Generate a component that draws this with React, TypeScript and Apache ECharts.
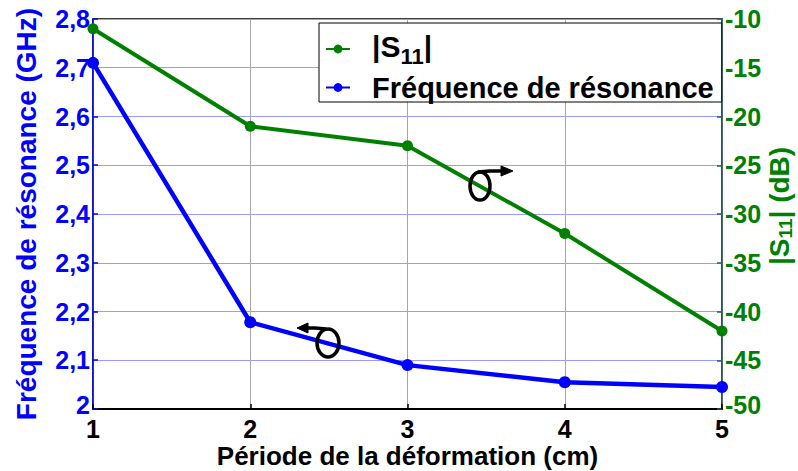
import React, { useEffect, useRef } from 'react';
import * as echarts from 'echarts';

// ---- data ----
const periods = [1, 2, 3, 4, 5];
const freqGHz = [2.71, 2.178, 2.09, 2.055, 2.045];
const s11dB = [-11, -21, -23, -32, -42];

const xTicks = { min: 1, max: 5, step: 1 };
const freqTicks = { min: 2, max: 2.8, step: 0.1 };
const s11Ticks = { min: -50, max: -10, step: 5 };

const seriesNames = ['S11', 'Fréquence de résonance'];
const xTitle = 'Période de la déformation (cm)';
const leftTitle = 'Fréquence de résonance (GHz)';

const FONT = '"Liberation Sans", Arial, Helvetica, sans-serif';
const BLUE = '#0000ff';
const GREEN = '#008000';
const RIGHT_AXIS = '#245a66';

export default function App() {
  const ref = useRef<HTMLDivElement>(null);

  useEffect(() => {
    if (!ref.current) return;
    const chart = echarts.init(ref.current, null, { renderer: 'svg' });

    const tickFont = { fontFamily: FONT, fontWeight: 'bold' as const, fontSize: 25 };
    const lowRich = (color: string) => ({
      lo: { fontFamily: FONT, fontWeight: 'bold', fontSize: 25, color, padding: [0, 0, 8, 0] },
    });

    const option: any = {
      animation: false,
      backgroundColor: '#fff',
      grid: {
        left: 93,
        right: 76,
        top: 19,
        bottom: 62,
        show: true,
        borderColor: '#000',
        borderWidth: 1.5,
        containLabel: false,
        outerBoundsMode: 'none',
      },
      legend: {
        data: seriesNames,
        orient: 'vertical',
        left: 319,
        top: 23,
        padding: [8, 8, 0, 6],
        itemGap: 6,
        backgroundColor: '#fff',
        borderColor: '#000',
        borderWidth: 1,
        borderRadius: 0,
        itemWidth: 24,
        itemHeight: 11,
        formatter: (name: string) =>
          name === 'S11' ? '{sp|}{t||S}{sub|11}{t||}' : '{sp|}{m|' + name + '}',
        textStyle: {
          fontFamily: FONT,
          fontWeight: 'bold',
          fontSize: 29,
          color: '#000',
          rich: {
            sp: { width: 17 },
            t: { fontFamily: FONT, fontWeight: 'bold', fontSize: 30, color: '#000', lineHeight: 36, verticalAlign: 'top' },
            sub: { fontFamily: FONT, fontWeight: 'bold', fontSize: 22, color: '#000', lineHeight: 22, verticalAlign: 'bottom' },
            m: { fontFamily: FONT, fontWeight: 'bold', fontSize: 29, color: '#000', lineHeight: 36 },
          },
        },
      },
      xAxis: {
        type: 'value',
        min: xTicks.min,
        max: xTicks.max,
        interval: xTicks.step,
        name: xTitle,
        nameLocation: 'middle',
        nameGap: 34,
        nameMoveOverlap: false,
        nameTextStyle: { fontFamily: FONT, fontWeight: 'bold', fontSize: 26, lineHeight: 26, color: '#000' },
        axisLine: { show: true, lineStyle: { color: '#000', width: 2 } },
        axisTick: { show: true, inside: true, length: 5, lineStyle: { color: '#000', width: 1.5 } },
        axisLabel: { ...tickFont, lineHeight: 24, color: '#000', margin: 8 },
        splitLine: { show: true, lineStyle: { color: '#a6a6a6', width: 1 } },
      },
      yAxis: [
        {
          type: 'value',
          position: 'left',
          min: freqTicks.min,
          max: freqTicks.max,
          interval: freqTicks.step,
          name: leftTitle,
          nameLocation: 'middle',
          nameRotate: 90,
          nameGap: 53,
          nameMoveOverlap: false,
          nameTextStyle: { fontFamily: FONT, fontWeight: 'bold', fontSize: 28, color: BLUE },
          axisLine: { show: true, lineStyle: { color: BLUE, width: 1.5 } },
          axisTick: { show: true, inside: true, length: 5, lineStyle: { color: BLUE, width: 1.5 } },
          axisLabel: {
            ...tickFont,
            color: BLUE,
            margin: 3,
            rich: lowRich(BLUE),
            formatter: (v: number) =>
              Math.abs(v - freqTicks.min) < 1e-9
                ? '{lo|' + String(Math.round(v)) + '}'
                : v.toFixed(1).replace('.', ','),
          },
          splitLine: { show: true, lineStyle: { color: '#9a9aff', width: 1 } },
        },
        {
          type: 'value',
          position: 'right',
          min: s11Ticks.min,
          max: s11Ticks.max,
          interval: s11Ticks.step,
          name: '{a||S}{b|11}{a|| (dB)}',
          nameLocation: 'middle',
          nameRotate: 90,
          nameGap: 43,
          nameMoveOverlap: false,
          nameTextStyle: {
            fontFamily: FONT,
            fontWeight: 'bold',
            fontSize: 28,
            color: GREEN,
            padding: [0, 0, 0, 16],
            rich: {
              a: { fontFamily: FONT, fontWeight: 'bold', fontSize: 28, color: GREEN, lineHeight: 30, verticalAlign: 'top' },
              b: { fontFamily: FONT, fontWeight: 'bold', fontSize: 19, color: GREEN, lineHeight: 19, verticalAlign: 'bottom' },
            },
          },
          axisLine: { show: true, lineStyle: { color: RIGHT_AXIS, width: 1.5 } },
          axisTick: { show: true, inside: true, length: 5, lineStyle: { color: RIGHT_AXIS, width: 1.5 } },
          axisLabel: {
            ...tickFont,
            color: GREEN,
            margin: 3,
            rich: lowRich(GREEN),
            formatter: (v: number) => (v === s11Ticks.min ? '{lo|' + v + '}' : String(v)),
          },
          splitLine: { show: false },
        },
      ],
      series: [
        {
          name: seriesNames[0],
          type: 'line',
          yAxisIndex: 1,
          data: periods.map((p, i) => [p, s11dB[i]]),
          symbol: 'circle',
          symbolSize: 11,
          clip: false,
          lineStyle: { color: GREEN, width: 4 },
          itemStyle: { color: GREEN },
          z: 3,
        },
        {
          name: seriesNames[1],
          type: 'line',
          yAxisIndex: 0,
          data: periods.map((p, i) => [p, freqGHz[i]]),
          symbol: 'circle',
          symbolSize: 12,
          clip: false,
          lineStyle: { color: BLUE, width: 4.5 },
          itemStyle: { color: BLUE },
          z: 3,
        },
      ],
      graphic: [
        // upper annotation: points to the right axis
        { type: 'ellipse', shape: { cx: 480, cy: 186, rx: 10, ry: 14 }, style: { fill: 'none', stroke: '#000', lineWidth: 3.5 }, z: 10 },
        { type: 'polyline', shape: { points: [[478, 172], [490, 171], [503, 171]] }, style: { fill: 'none', stroke: '#000', lineWidth: 3.5 }, z: 10 },
        { type: 'polygon', shape: { points: [[501, 166], [513, 171], [501, 176]] }, style: { fill: '#000', stroke: '#000', lineWidth: 1 }, z: 10 },
        // lower annotation: points to the left axis
        { type: 'ellipse', shape: { cx: 328, cy: 343, rx: 11, ry: 14 }, style: { fill: 'none', stroke: '#000', lineWidth: 3.5 }, z: 10 },
        { type: 'polyline', shape: { points: [[326, 329], [315, 328], [306, 328]] }, style: { fill: 'none', stroke: '#000', lineWidth: 3.5 }, z: 10 },
        { type: 'polygon', shape: { points: [[308, 323], [297, 328], [308, 333]] }, style: { fill: '#000', stroke: '#000', lineWidth: 1 }, z: 10 },
      ],
    };

    chart.setOption(option);
    return () => chart.dispose();
  }, []);

  return (
    <div
      ref={ref}
      style={{ position: 'fixed', left: 0, top: 0, width: 798, height: 471, background: '#fff' }}
    />
  );
}
